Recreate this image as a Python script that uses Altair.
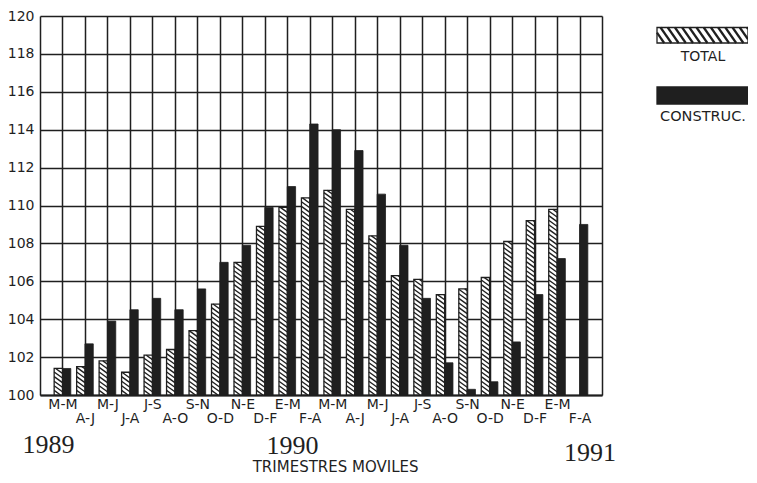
import json
import altair as alt
import pandas as pd

# ---------------- data ----------------
cats = ["M-M", "A-J", "M-J", "J-A", "J-S", "A-O", "S-N", "O-D", "N-E", "D-F", "E-M", "F-A",
        "M-M", "A-J", "M-J", "J-A", "J-S", "A-O", "S-N", "O-D", "N-E", "D-F", "E-M", "F-A"]
total = [101.4, 101.5, 101.8, 101.2, 102.1, 102.4, 103.4, 104.8, 107.0, 108.9, 109.9, 110.4,
         110.8, 109.8, 108.4, 106.3, 106.1, 105.3, 105.6, 106.2, 108.1, 109.2, 109.8, None]
construc = [101.4, 102.7, 103.9, 104.5, 105.1, 104.5, 105.6, 107.0, 107.9, 109.9, 111.0, 114.3,
            114.0, 112.9, 110.6, 107.9, 105.1, 101.7, 100.3, 100.7, 102.8, 105.3, 107.2, 109.0]
years = ["1989", "1990", "1991"]
series_names = ["TOTAL", "CONSTRUC."]
x_title = "TRIMESTRES MOVILES"

# ---------------- layout ----------------
TOP = 8
W_PX, H_PX = 562, 379
YMIN, YMAX = 100, 120
XMAX = len(cats) + 1
BW = 0.37                      # bar width in category units
INK = "#1f1f1f"
SANS = "DejaVu Sans"
SERIF = "Liberation Serif"

xs = alt.Scale(domain=[0, XMAX], nice=False, zero=False)
ys = alt.Scale(domain=[YMIN, YMAX], nice=False, zero=False)

rows_t, rows_c = [], []
for i, (t, c) in enumerate(zip(total, construc), start=1):
    if t is not None:
        rows_t.append(dict(x0=i - BW, x1=i, v=t, cat=cats[i - 1]))
    if c is not None:
        rows_c.append(dict(x0=i, x1=i + BW, v=c, cat=cats[i - 1]))
df_t = pd.DataFrame(rows_t)
df_c = pd.DataFrame(rows_c)

# hatch strokes inside the TOTAL bars (derived from the values, in data units)
px_y = H_PX / (YMAX - YMIN)
S = 4.6 / px_y
D = 6.0 / px_y
hatch = []
for r in rows_t:
    x0, x1, v = r["x0"], r["x1"], r["v"]
    yR = YMIN - D
    while yR < v:
        yL = yR + D
        t0 = max(0.0, (yL - v) / D)
        t1 = min(1.0, (yL - YMIN) / D)
        if t1 > t0:
            hatch.append(dict(xa=x0 + t0 * (x1 - x0), ya=yL - D * t0,
                              xb=x0 + t1 * (x1 - x0), yb=yL - D * t1))
        yR += S
df_h = pd.DataFrame(hatch)

label_expr = ("datum.value >= 1 && datum.value <= %d ? %s[datum.value - 1] : ''"
              % (len(cats), json.dumps(cats)))

x_axis = alt.Axis(values=list(range(0, XMAX + 1)), grid=True, gridColor=INK, gridWidth=1.5,
                  ticks=False, tickSize=0, domain=True, domainColor=INK, domainWidth=2.2,
                  labelExpr=label_expr, labelFont=SANS, labelFontSize=14, labelColor=INK,
                  labelBaseline="alphabetic", labelOverlap=False, labelFlush=False,
                  labelPadding={"condition": {"test": "datum.value % 2 == 0", "value": 27},
                                "value": 13},
                  title=None)
y_axis = alt.Axis(values=list(range(YMIN, YMAX + 1, 2)), grid=True, gridColor=INK, gridWidth=1.5,
                  ticks=False, tickSize=0, domain=False, labelFont=SANS, labelFontSize=14,
                  labelColor=INK, labelPadding=6, labelOverlap=False, title=None)


def X(field):
    return alt.X(field, scale=xs, axis=x_axis)


def Y(field):
    return alt.Y(field, scale=ys, axis=y_axis)


bars_t = alt.Chart(df_t).mark_rect(fill="white", stroke=INK, strokeWidth=1.3).encode(
    x=X("x0:Q"), x2="x1:Q", y=Y("v:Q"), y2=alt.datum(YMIN))

hatch_lines = alt.Chart(df_h).mark_rule(color=INK, strokeWidth=1.4).encode(
    x=X("xa:Q"), x2="xb:Q", y=Y("ya:Q"), y2="yb:Q")

bars_c = alt.Chart(df_c).mark_rect(fill=INK, stroke=INK, strokeWidth=0.8).encode(
    x=X("x0:Q"), x2="x1:Q", y=Y("v:Q"), y2=alt.datum(YMIN))

# year labels and axis title (x in category units, y in pixels below the plot top)
df_years = pd.DataFrame(dict(txt=years, x=[0.38, 11.23, 24.47],
                             py=[453 - 8 - TOP, 454 - 8 - TOP, 461 - 8 - TOP]))
year_text = alt.Chart(df_years).mark_text(font=SERIF, fontSize=26, color=INK,
                                          align="center", baseline="alphabetic").encode(
    x=X("x:Q"), y=alt.Y("py:Q", scale=None), text="txt:N")

df_title = pd.DataFrame(dict(txt=[x_title], x=[13.15], py=[472 - 8 - TOP]))
title_text = alt.Chart(df_title).mark_text(font=SANS, fontSize=15, color=INK,
                                           align="center", baseline="alphabetic").encode(
    x=X("x:Q"), y=alt.Y("py:Q", scale=None), text="txt:N")

# custom legend (pixel positions to the right of the plot)
LX0, LX1 = 617, 708
off = 14 - 8 - TOP
df_box = pd.DataFrame(dict(name=series_names, px0=[LX0, LX0], px1=[LX1, LX1],
                           py0=[13.5 + off, 73 + off], py1=[29 + off, 90 + off],
                           fill=["white", INK]))
legend_boxes = alt.Chart(df_box).mark_rect(stroke=INK, strokeWidth=1.3).encode(
    x=alt.X("px0:Q", scale=None), x2="px1:Q", y=alt.Y("py0:Q", scale=None), y2="py1:Q",
    fill=alt.Fill("fill:N", scale=None))

lh = []
top, bot = 13.5 + off, 29 + off
k = 0.7 * (bot - top)
a = LX0 - k
while a < LX1:
    t0 = max(0.0, (LX0 - a) / k)
    t1 = min(1.0, (LX1 - a) / k)
    if t1 > t0:
        lh.append(dict(xa=a + k * t0, ya=top + (bot - top) * t0,
                       xb=a + k * t1, yb=top + (bot - top) * t1))
    a += 7.2
df_lh = pd.DataFrame(lh)
legend_hatch = alt.Chart(df_lh).mark_rule(color=INK, strokeWidth=2.2).encode(
    x=alt.X("xa:Q", scale=None), x2="xb:Q", y=alt.Y("ya:Q", scale=None), y2="yb:Q")

df_ltxt = pd.DataFrame(dict(txt=series_names, px=[663, 663], py=[47 + off, 107 + off],
                            fs=[14, 14.5]))
legend_text = alt.Chart(df_ltxt).mark_text(font=SANS, color=INK, align="center",
                                           baseline="alphabetic").encode(
    x=alt.X("px:Q", scale=None), y=alt.Y("py:Q", scale=None), text="txt:N",
    size=alt.Size("fs:Q", scale=None))

chart = alt.layer(bars_t, hatch_lines, bars_c, year_text, title_text,
                  legend_boxes, legend_hatch, legend_text).properties(
    width=W_PX, height=H_PX,
    autosize=alt.AutoSizeParams(type="none"),
    padding={"left": 32, "top": TOP, "right": 146, "bottom": 80},
    background="white",
).configure_view(stroke=None)

chart.save("out.html", embed_options={"renderer": "svg", "actions": False})
